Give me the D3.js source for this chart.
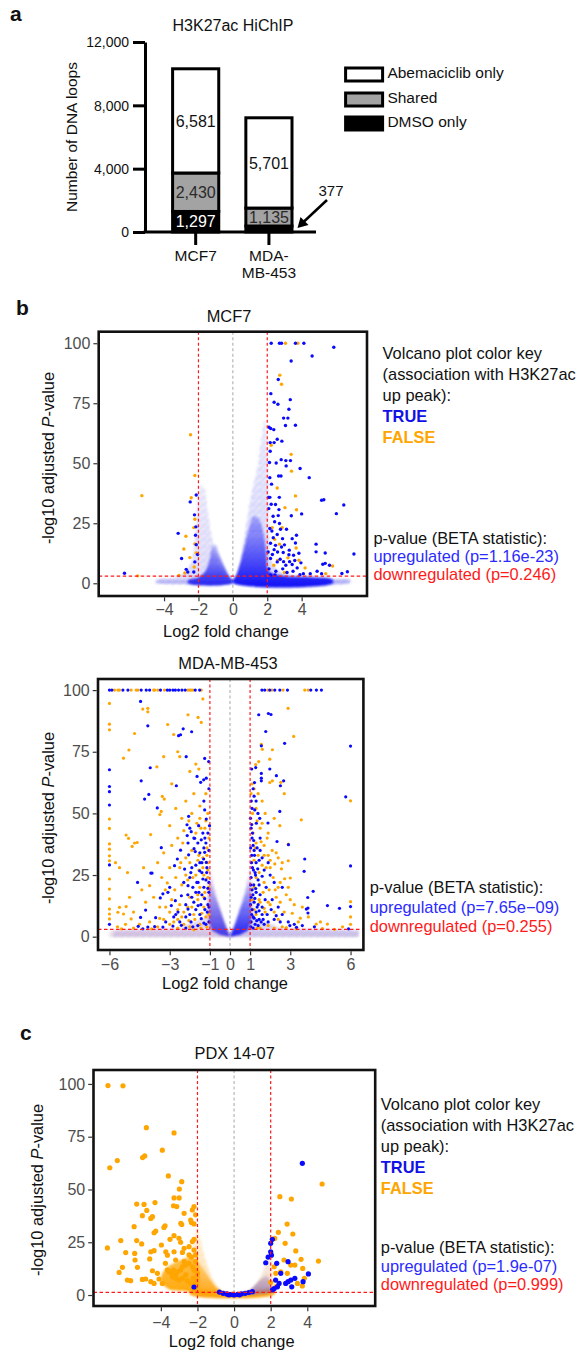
<!DOCTYPE html>
<html><head><meta charset="utf-8">
<script src="https://cdn.jsdelivr.net/npm/d3@7"></script>
<style>body{margin:0;background:#fff}svg{display:block}text{font-family:Arial,"Liberation Sans",Helvetica,sans-serif}</style>
</head><body><svg id="c" width="579" height="1353"></svg>
<script>
// ---------------- Panel a data ----------------
const barCategories = ["MCF7", "MDA-MB-453"];
const barTickLabels = [["MCF7"], ["MDA-", "MB-453"]];
const barDMSO = [1297, 377];
const barShared = [2430, 1135];
const barAbema = [6581, 5701];
const barTicks = [0, 4000, 8000, 12000];
const legendLabels = ["Abemaciclib only", "Shared", "DMSO only"];
const arrowLabel = "377";

// ---------------- Panel b/c text ----------------
const keyLines = ["Volcano plot color key", "(association with H3K27ac", "up peak):"];
const keyTrue = "TRUE", keyFalse = "FALSE";
const statHead = "p-value (BETA statistic):";
const mcf7Stats = ["upregulated (p=1.16e-23)", "downregulated (p=0.246)"];
const mdaStats = ["upregulated (p=7.65e\u221209)", "downregulated (p=0.255)"];
const pdxStats = ["upregulated (p=1.9e-07)", "downregulated (p=0.999)"];

// ---------------- MCF7 volcano ----------------
const mcf7XTicks = [-4, -2, 0, 2, 4];
const volcYTicks = [0, 25, 50, 75, 100];
const mcf7True = [[2.23,100],[2.71,100],[2.83,100],[3.64,100],[4.13,100],[4.61,94.7],[3.39,92.6],[2.64,84.9],[2.21,79],[2.4,75.4],[2.62,74.6],[3.34,76.5],[3.26,72.5],[2.95,68.8],[3.2,68.8],[3.64,65.8],[3.06,65.7],[2.1,65],[2.2,64.5],[2.38,64],[2.58,60],[2.17,58.6],[2.4,58.6],[2.85,59.2],[2.17,55],[2.13,50.3],[2.52,50.1],[2.81,51.5],[3.08,51.1],[3.35,51.1],[3.1,48.9],[3.91,47.8],[4.44,44],[2.15,44],[2.66,44.7],[2.8,44.7],[2.25,41.3],[2.08,35.8],[2.15,35.8],[2.7,35.8],[2.23,32.9],[2.48,32.8],[2.68,30.7],[2.09,31.1],[5.16,34.6],[5.29,34.8],[3.4,28.1],[4.0,28.9],[2.34,27.9],[2.64,28.2],[2.71,24.9],[2.43,25.6],[2.15,22.8],[2.27,21.8],[2.77,22.5],[3.12,22.5],[2.58,20.3],[2.89,18.6],[3.45,18.6],[3.7,20],[2.19,16.7],[2.48,15.8],[2.83,15.1],[3.28,13.8],[3.64,16.8],[2.93,12.8],[3.26,11.9],[3.53,11.7],[3.84,12.5],[3.96,8.5],[2.19,10.3],[2.58,8.9],[3.08,7.5],[3.45,7.8],[3.74,6.4],[4.84,16.3],[4.84,13.1],[5.37,12.6],[5.23,7.9],[5.37,8.3],[5.62,7.5],[4.5,4],[4.9,5],[5.16,4],[7.04,12.2],[6.45,32.6],[6.02,29],[5.87,98.3],[6.66,4.8],[6.34,4.1],[2.3,12],[2.5,5],[2.9,6],[3.3,9],[2.1,6],[2.4,14],[3.0,16],[2.6,13],[3.5,5],[2.2,3.5],[4.1,4],[2.75,10],[3.15,4.5],[2.35,19],[2.05,13],[2.95,9],[3.6,9.5],[2.45,3.5],[3.9,3.6],[-2.13,36.8],[-2.48,33.9],[-2.23,28.5],[-2.15,23.5],[-3.18,20.8],[-2.17,20],[-2.13,16.1],[-2.98,10.3],[-2.21,8.9],[-2.71,5.8],[-2.62,4.7],[-6.3,4.2],[-2.27,4.7],[-2.05,12]];
const mcf7False = [[3.06,100],[3.78,100],[2.73,86.7],[2.83,82.9],[2.23,57.5],[3.39,53.7],[3.41,46.7],[2.58,39.7],[3.64,36.4],[3.03,31.5],[3.7,30.6],[2.29,23.2],[2.87,23.2],[2.43,18.3],[2.71,16.3],[3.68,14.7],[3.2,10.6],[3.84,9.6],[2.38,7.5],[4.2,6.4],[5.4,4],[5.8,7.2],[2.6,9.5],[3.0,4.5],[-2.46,61.9],[-5.29,36.5],[-2.21,44.9],[-2.42,35.6],[-2.21,26.7],[-2.27,23.2],[-2.73,19.6],[-2.85,14.3],[-2.21,16.4],[-2.13,12.6],[-2.5,10.7],[-2.25,6.8],[-2.79,4.3],[-5.54,3.1],[-3.14,3.3]];
const mcf7HaloLeft = [[0,0.3],[-0.33,1.25],[-0.62,4.7],[-0.91,10.3],[-1.2,18.6],[-1.4,26.9],[-1.55,35.3],[-1.69,40.1],[-1.82,40.8],[-1.98,39.4],[-2.07,32.5],[-2.17,21.4],[-2.36,10.3],[-2.75,4.7],[-3.53,2.2],[-4.3,1.7],[-4.4,0.3]];
const mcf7CoreLeft = [[0,0.3],[-0.3,4],[-0.6,8.5],[-0.85,13],[-1.0,16],[-1.2,15],[-1.35,10],[-1.6,5],[-2.0,2.5],[-2.6,1.2],[-2.6,0]];
const mcf7HaloRight = [[0,0.3],[0.25,3.3],[0.45,8.9],[0.6,15.8],[0.8,25],[1.0,34],[1.25,42.6],[1.45,49],[1.62,58],[1.85,68],[2.0,60],[2.05,40],[2.1,20],[2.3,8],[3,4],[4.5,3],[5.6,1.7],[6.8,1.5],[6.8,0.3]];
const mcf7CoreRight = [[0,0.3],[0.2,3.5],[0.45,9],[0.7,16],[0.95,23],[1.2,28],[1.5,27],[1.8,20],[1.95,12],[2.1,5],[3,3],[4.5,2.5],[5.8,1.5],[5.8,0]];
const mcf7Band = [[-4.5,0],[-4.5,1.6],[6.8,1.6],[6.8,0]];

// ---------------- MDA-MB-453 volcano ----------------
const mdaXTicks = [-6, -3, -1, 0, 1, 3, 6];
const mdaTrue = [[-6,100],[-5.88,100],[-5.33,100],[-5.08,100],[-4.42,100],[-4.17,100],[-4,100],[-3.46,100],[-3.12,100],[-3,100],[-2.84,100],[-2.72,100],[-2.56,100],[-2.39,100],[-2.23,100],[-1.73,100],[-1.51,100],[1.59,100],[1.73,100],[1.98,100],[2.23,100],[2.48,100],[2.86,100],[4.02,100],[4.3,100],[4.55,100],[-6,67.7],[-6,60.9],[-6,58.8],[-6,53.4],[-6,29.1],[-6,5],[-4.45,95.4],[-4.09,85.5],[-3.97,68.5],[-4.42,63.2],[-4.04,57.7],[-4.25,55.8],[-3.62,52.2],[-3.42,36.1],[-3.94,25.8],[-3.88,25.8],[-4.6,22],[-4.45,7.8],[-4.57,4.2],[-4.2,10.8],[-3.7,7.7],[-3.34,17.4],[-3.47,15.7],[-1.06,71],[-1.26,72.3],[-1.18,64.3],[-1.46,62.6],[-1.31,63.6],[-1.64,65],[-2.18,73],[-2.46,81.9],[-2.56,81.5],[-2.33,84.3],[-1.91,83.1],[-2.67,61.2],[-2.06,48.8],[-2.14,45.4],[-1.56,45],[-1.26,51.4],[-1.93,42.6],[-1.76,39.9],[-1.43,39.3],[-1.35,42],[-1.6,38],[-1.18,47.7],[-2.13,41],[-2.09,38],[-1.79,35.7],[-1.26,34.2],[-1.31,31.5],[-1.18,30.1],[-1.73,34.5],[-2.06,33.2],[-2.46,35.1],[-2.62,31.5],[-2.76,28.8],[-2.26,27.4],[-1.51,26.7],[-1.16,26],[-1.35,23.4],[-1.59,22],[-2.09,20.7],[-2.42,16.6],[-2.72,14.6],[-3.09,18],[-2.92,12.6],[-2.59,10],[-2.09,11.2],[-1.59,12.6],[-1.26,15.4],[-1.1,19.6],[-1.13,10],[-1.43,7.3],[-1.94,6],[-2.42,4.6],[-2.84,4.3],[-3.34,3.9],[-3.75,4.1],[-4.09,3.9],[-4.34,3.2],[-1.2,5],[-1.5,9],[-1.8,14],[-2.2,8],[-1.1,13],[-1.7,18],[-2.0,24],[-1.4,17],[-2.3,22],[-1.9,28],[-1.05,22],[-1.25,40],[-1.5,30],[-2.8,8],[-3.2,6],[-3.0,20],[-1.02,45],[-1.1,42],[-1.2,38],[-1.05,35],[-1.3,36],[-1.5,34],[-1.15,28],[-1.4,26],[-1.7,29],[-1.95,26],[-1.05,18],[-1.3,20],[-1.55,18],[-1.85,20],[-2.1,17],[-1.05,12],[-1.25,11],[-1.45,13],[-1.7,11],[-2.0,9],[-1.05,6],[-1.3,5.5],[-1.6,4.5],[-1.85,4],[-2.2,3.5],[-2.5,6],[-2.7,9],[-2.2,13],[-1.9,16],[-1.65,22],[-1.4,30],[-1.2,23],[-1.8,40],[-2.0,44],[-1.3,55],[-1.05,60],[1.43,90],[1.91,90.5],[2.04,90.1],[1.78,83.2],[1.56,77.4],[1.28,68.6],[1.56,66.2],[1.56,64.3],[1.56,63.2],[1.98,68],[2.31,65.3],[2.51,61.2],[2.72,78.4],[2.67,63.2],[1.23,51.4],[1.39,50],[1.48,48],[1.31,46],[2.48,50.8],[1.89,46.1],[2.34,38.6],[2.91,37.3],[3.72,31.5],[3.69,26.5],[3.87,15.9],[4.14,18.4],[4.85,12.6],[3.8,11.2],[3.31,3.8],[2.98,4.5],[6.0,77.3],[5.76,56.7],[6.0,28.7],[6.0,12.2],[5.45,11.5],[5.9,3.2],[3.88,11.6],[3.88,9.6],[1.05,44],[1.1,40],[1.15,37],[1.2,35],[1.08,33],[1.3,30],[1.12,28],[1.25,26],[1.05,24],[1.4,23],[1.18,21],[1.1,19],[1.3,18],[1.5,17],[1.05,16],[1.2,14],[1.4,13],[1.1,11],[1.3,10],[1.6,9],[1.15,8],[1.45,7],[1.05,6],[1.25,5],[1.7,5],[1.9,6],[2.2,7],[2.5,6],[1.6,12],[1.8,20],[1.7,27],[2.0,25],[2.1,15],[2.4,12],[1.35,36],[1.6,32],[1.9,30],[2.2,22],[2.6,20],[1.5,40],[1.2,57],[1.3,55],[1.02,48],[1.08,45.5],[1.12,42],[1.18,39],[1.03,36],[1.22,33],[1.07,30],[1.17,27],[1.27,25],[1.03,21],[1.14,17],[1.24,15.5],[1.35,12],[1.02,13],[1.08,9],[1.2,7.5],[1.33,6.5],[1.04,4],[1.15,3.5],[1.4,4.5],[1.55,6],[1.65,7],[1.45,10.5],[1.28,19.5],[1.38,27.5],[1.45,31],[1.5,35],[1.1,52],[1.06,55],[1.45,21],[1.6,24.5],[1.75,15],[1.85,9],[2.05,11],[2.3,8.5],[2.6,9],[2.9,6],[3.2,5],[3.6,4.5],[4.2,4],[1.15,60],[1.22,62.5],[1.08,68]];
const mdaFalse = [[-5.75,100],[-5.58,100],[-5.5,100],[-4.92,100],[-4.67,100],[-4.58,100],[-3.75,100],[-3.59,100],[-3.26,100],[-2.09,100],[-1.93,100],[-1.84,100],[-1.43,100],[-3.8,100],[-2.0,100],[1.89,100],[2.09,100],[2.64,100],[3.72,100],[3.89,100],[-6,94.6],[-6,86.2],[-6,83.9],[-6,47.7],[-6,43.9],[-6,37.6],[-6,35.5],[-6,32.8],[-6,30.8],[-6,23.4],[-6,19.3],[-6,15.3],[-6,11.2],[-6,9.2],[-6,7.2],[-4.34,92.3],[-4.09,92.6],[-4.09,91.2],[-4.75,82.4],[-5.03,75.7],[-5.3,72.4],[-3.64,68.9],[-3.37,56.9],[-3.27,55.8],[-3.49,49.5],[-3.42,50.8],[-3.95,41.4],[-5.17,41.2],[-5.05,39.9],[-4.62,38.2],[-4.75,38],[-4.87,36.6],[-4.39,19],[-4.0,20.7],[-5.17,12.2],[-5.5,11.9],[-5.58,9.9],[-5.3,9.2],[-4.92,7.2],[-3.5,7.4],[-3.22,19],[-3.12,21.8],[-1.59,88.9],[-1.43,86.9],[-1.35,96.4],[-2.09,90],[-2.8,82],[-3.1,86],[-2.6,75],[-2.5,73],[-3.3,73],[-2.0,67],[-1.7,70],[-1.55,68],[-2.9,62],[-1.8,58],[-2.2,55],[-2.7,52],[-3.0,45],[-2.4,48],[-1.9,50],[-1.5,53],[-1.2,58],[-1.1,50],[-1.25,44],[-1.65,46],[-2.3,43],[-2.6,40],[-2.9,37],[-3.3,34],[-3.6,30],[-3.0,28],[-2.5,28],[-2.0,30],[-1.55,33],[-1.15,36],[-1.35,28],[-1.7,25],[-2.2,25],[-2.7,24],[-3.4,24],[-3.8,16],[-4.2,14],[-4.8,10],[-5.0,16],[-3.5,12],[-3.0,10],[-2.5,13],[-2.0,16],[-1.5,20],[-1.1,24],[-1.25,18],[-1.6,15],[-2.1,12],[-2.6,7],[-1.2,8],[-1.5,5],[-2.0,4],[-3.0,5],[-4.0,6],[-5.2,5],[-5.6,4],[-4.5,5],[-1.1,30],[-1.3,12],[-1.8,9],[-2.3,5],[-5.7,30],[-5.5,28],[-5.1,26],[-4.3,28],[-1.05,40],[-1.15,33],[-1.35,32],[-1.6,31],[-1.9,35],[-2.2,32],[-2.45,30],[-1.1,27],[-1.3,25],[-1.55,27],[-1.85,24],[-2.1,23],[-2.4,21],[-2.75,19],[-1.05,20],[-1.3,16],[-1.6,17],[-1.9,12],[-2.3,10],[-2.6,11],[-2.9,15],[-3.2,12],[-1.05,9],[-1.4,9.5],[-1.75,7],[-2.05,6.5],[-2.4,8],[-2.8,6],[-3.3,7],[-3.6,4],[-1.15,4],[-1.45,3.5],[-1.8,2.8],[-2.6,3.5],[-3.9,3.2],[-4.8,3.5],[-5.4,3.2],[-1.2,47],[-1.45,44],[-1.7,42],[-2.05,47],[-2.35,38],[-1.5,48],[2.89,92.6],[3.17,81.2],[1.56,78],[1.61,76],[2.11,75.8],[1.98,72],[1.43,71],[1.28,69.8],[2.11,63.2],[1.98,62.5],[2.53,62.6],[2.7,58],[3.55,47.4],[2.48,45],[2.9,37.5],[2.9,30.8],[2.23,29.5],[2.56,27.5],[2.72,23.5],[3.0,23.8],[4.29,5.1],[4.85,5.1],[3.6,12],[3.9,8],[4.5,6],[6.0,55.1],[6.0,14.2],[6.0,8],[6.0,5],[5.6,4],[1.1,62],[1.2,60],[1.4,58],[1.6,55],[1.3,52],[1.75,50],[2.2,48],[1.5,44],[1.9,42],[1.15,42],[1.3,38],[1.7,37],[2.1,35],[1.4,33],[1.9,33],[2.4,32],[1.2,31],[1.6,29],[2.0,28],[2.4,20],[1.7,22],[1.3,24],[2.8,17],[2.3,16],[1.9,14],[3.2,13],[2.7,10],[2.2,10],[1.75,10],[3.4,6],[2.6,4],[1.5,3.5],[1.2,20],[1.45,15],[1.05,58],[1.12,50],[1.35,47],[1.6,46],[1.85,40],[1.55,38.5],[1.25,36],[1.7,33],[2.0,31],[2.3,34],[2.6,30],[1.8,28],[1.45,26],[2.15,24],[2.5,22],[1.95,19],[1.65,18],[2.25,19],[2.9,20],[1.5,14],[2.0,13],[2.5,14],[3.0,15],[1.3,9],[1.7,11.5],[2.4,7],[3.1,9.5],[3.5,7.5],[1.9,4.5],[2.2,3.5],[2.8,3.7],[3.3,3.2],[4.6,3.3],[5.2,3],[1.1,15],[1.2,11],[1.35,3.5]];
const mdaHaloLeft = [[0,0],[-0.3,7],[-0.6,15],[-0.9,25],[-1.05,30],[-1.15,22],[-1.2,8],[-2.5,3.5],[-5.8,2.5],[-5.8,0]];
const mdaHaloRight = [[0,0],[0.3,7],[0.6,15],[0.9,25],[1.05,30],[1.15,22],[1.2,8],[2.5,3.5],[6.4,2.5],[6.4,0]];
const mdaCoreLeft = [[0,0],[-0.25,5],[-0.5,11],[-0.75,17],[-0.95,23],[-1.05,20],[-1.05,6],[-0.9,2.5],[-0.5,0.8]];
const mdaCoreRight = [[0,0],[0.25,5],[0.5,11],[0.75,17],[0.95,23],[1.05,20],[1.05,6],[0.9,2.5],[0.5,0.8]];
const mdaBand = [[-6,0],[-6,2.5],[6.4,2.5],[6.4,0]];

// ---------------- PDX 14-07 volcano ----------------
const pdxXTicks = [-4, -2, 0, 2, 4];
const pdxFalse = [[-6.89,99.2],[-6.07,99.1],[-4.79,79.3],[-3.28,76.8],[-3.92,68.6],[-4.88,65.9],[-5.0,65.1],[-6.38,63.7],[-6.79,60.3],[-3.59,56.4],[-2.86,53.7],[-2.99,50.2],[-5.32,43.1],[-4.92,42.9],[-4.32,43.8],[-3.28,46],[-3.0,46],[-3.31,42.3],[-3.13,41.9],[-4.77,40.1],[-5.01,37.6],[-4.46,37.1],[-4.55,36.3],[-2.73,38.7],[-2.19,41.9],[-2.28,40.3],[-2.1,38],[-2.37,35.5],[-2.33,34.3],[-2.19,33.7],[-2.91,34],[-2.86,33.4],[-4.28,30.3],[-4.37,29.5],[-3.77,32.8],[-3.83,32],[-5.46,32.4],[-6.19,25.8],[-6.92,22.3],[-5.32,25.8],[-5.05,24.2],[-3.97,23.7],[-3.5,26.4],[-3.28,28.1],[-3.01,26.9],[-2.92,25],[-2.73,22.1],[-2.46,22.9],[-2.28,25.3],[-2.19,26.4],[-5.92,20.1],[-5.43,19.7],[-4.55,20.5],[-4.37,21],[-3.73,20.5],[-3.64,18.9],[-3.28,20.5],[-3.19,16.6],[-2.82,20.2],[-2.46,19],[-2.33,18],[-2.19,21.3],[-2.1,19],[-5.41,16.6],[-4.61,17.1],[-6.1,13.1],[-6.28,10.7],[-5.28,13.1],[-5.83,7.1],[-5.65,6.8],[-5.01,7.4],[-4.83,7.6],[-4.55,6.3],[-4.37,5.5],[-4.1,7.6],[-3.92,5.5],[-3.64,11.8],[-3.55,11],[-3.42,10.3],[-3.31,11.8],[-3.19,9.5],[-3.1,11],[-2.92,11.8],[-2.82,13.4],[-2.73,15.8],[-2.64,14.2],[-2.46,15],[-2.28,13.4],[-2.19,11.8],[-2.1,15.8],[-3.37,8.7],[-3.19,7.9],[-3.01,7.1],[-2.82,7.9],[-2.64,9.5],[-2.55,6.8],[-2.37,5.5],[-2.22,7.9],[-2.1,5.5],[-2.0,10.3],[-4.19,10.3],[-4.46,11.5],[-3.75,15],[4.81,52.6],[2.5,46.6],[3.13,45.5],[2.9,33.6],[2.42,29.7],[3.21,28.9],[2.22,26.8],[2.79,24.5],[3.37,20.9],[3.66,16.9],[4.61,16.1],[2.73,16.6],[3.1,14.2],[3.32,14.2],[3.75,12.6],[2.19,13.4],[2.55,11],[2.91,10.3],[3.84,7.9],[2.28,10.3],[3.73,4.3],[3.46,5.5],[2.3,4],[2.0,6]];
const pdxTrue = [[3.73,62.4],[2.09,26.4],[2.0,24.5],[2.0,20.5],[2.04,18.9],[2.33,15],[2.95,15.8],[2.55,10.3],[2.27,7.1],[2.46,5.5],[2.37,3.9],[2.82,5.5],[2.95,6.3],[3.1,7.1],[3.32,7.9],[3.77,6.3],[4.06,10],[2.19,3.1],[2.1,2.4],[3.15,3.9],[1.73,15.3],[1.86,18],[-2.19,3.8],[-0.6,0.8],[-0.4,0.5],[-0.2,0.2],[0.0,0],[0.2,0.3],[0.4,0.6],[0.6,0.8],[0.8,1.2],[-0.8,1.4],[1.0,1.6],[0.3,0.1],[-0.3,0.1]];
const pdxHaloLeft = [[0,0],[-0.6,1.5],[-1.0,5],[-1.3,10],[-1.6,18],[-1.8,25],[-2.0,31],[-2.2,26],[-2.3,12],[-2.4,3],[-2.3,0.3]];
const pdxCoreLeft = [[0,0],[-0.5,1],[-0.9,3],[-1.2,6],[-1.5,10],[-1.8,14],[-2.0,16],[-2.0,1.5],[-1.0,0.3]];
const pdxMassLeft = [[-2.0,2],[-2.0,15],[-2.3,18],[-2.8,17],[-3.3,15],[-3.8,12],[-4.0,7],[-3.6,3],[-2.8,2]];
const pdxBand = [[-2.4,0.3],[-2.4,2.4],[0,0.8],[2.2,2.4],[2.2,0.3]];
const pdxHaloRight = [[0,0],[0.5,0.8],[1.0,3],[1.4,8],[1.7,14],[1.9,21],[2.05,18],[2.1,8],[2.2,2],[1.5,0.5]];
const pdxCoreRight = [[0.1,0],[0.6,1.2],[1.0,3.5],[1.4,7],[1.8,9],[2.0,5],[2.0,1.5],[1.2,0.3]];

// ================= drawing =================
const FONT = 'Arial,"Liberation Sans",Helvetica,sans-serif';
const BLUE = "#0a0aff", ORANGE = "#ffa500", RED = "#ff1a1a";
const svg = d3.select("#c");
svg.append("rect").attr("width", 579).attr("height", 1353).attr("fill", "#fff");
const defs = svg.append("defs");
defs.append("filter").attr("id", "soft").attr("x", "-30%").attr("y", "-30%").attr("width", "160%").attr("height", "160%")
  .append("feGaussianBlur").attr("stdDeviation", 0.9);
let fillCount = 0;
function dotPattern(color) {
  const id = "pat" + (fillCount++);
  const pt = defs.append("pattern").attr("id", id).attr("patternUnits", "userSpaceOnUse").attr("width", 7).attr("height", 7);
  [[1.2,1.3,1],[4.8,2.6,1],[2.6,5.4,0.95],[6.2,6.2,0.8]].forEach(c =>
    pt.append("circle").attr("cx", c[0]).attr("cy", c[1]).attr("r", c[2]).attr("fill", color));
  return `url(#${id})`;
}
function vGrad(color, bottomOp, topOp) {
  const id = "grad" + (fillCount++);
  const lg = defs.append("linearGradient").attr("id", id).attr("x1", 0).attr("y1", 1).attr("x2", 0).attr("y2", 0);
  lg.append("stop").attr("offset", 0).attr("stop-color", color).attr("stop-opacity", bottomOp);
  lg.append("stop").attr("offset", 1).attr("stop-color", color).attr("stop-opacity", topOp);
  return `url(#${id})`;
}

function txt(g, x, y, s, o = {}) {
  return g.append("text").attr("x", x).attr("y", y).text(s)
    .attr("font-family", FONT).attr("font-size", o.size || 16)
    .attr("fill", o.fill || "#111").attr("font-weight", o.weight || "normal")
    .attr("text-anchor", o.anchor || "start");
}

// ---------- Panel a ----------
const gA = svg.append("g");
txt(gA, 10, 21, "a", {size: 21, weight: "bold"});
txt(gA, 233, 30.5, "H3K27ac HiChIP", {size: 16, anchor: "middle"});
const yB = d3.scaleLinear().domain([0, 12000]).range([232, 42]);
const xB = d3.scaleBand().domain(barCategories).range([172.6, 292]).paddingInner(0.37).paddingOuter(0);
const rows = barCategories.map((c, i) => ({cat: c, dmso: barDMSO[i], shared: barShared[i], abema: barAbema[i]}));
const stackKeys = ["dmso", "shared", "abema"];
const fills = {dmso: "#000", shared: "#a3a3a3", abema: "#fff"};
const labelFill = {dmso: "#fff", shared: "#2a2a2a", abema: "#111"};
const stacked = d3.stack().keys(stackKeys)(rows);
stacked.forEach(s => {
  gA.append("g").selectAll("rect").data(s).join("rect")
    .attr("x", d => xB(d.data.cat)).attr("width", xB.bandwidth())
    .attr("y", d => yB(d[1])).attr("height", d => yB(d[0]) - yB(d[1]))
    .attr("fill", fills[s.key]).attr("stroke", "#000").attr("stroke-width", 3);
});
stacked.forEach(s => {
  gA.append("g").selectAll("text").data(s.filter(d => d[1] - d[0] > 600)).join("text")
    .attr("x", d => xB(d.data.cat) + xB.bandwidth() / 2)
    .attr("y", d => (yB(d[0]) + yB(d[1])) / 2).attr("dy", "0.36em")
    .attr("text-anchor", "middle").attr("font-family", FONT).attr("font-size", 16)
    .attr("fill", labelFill[s.key]).text(d => d3.format(",")(d[1] - d[0]));
});
const yAx = gA.append("g").attr("transform", "translate(145,0)")
  .call(d3.axisLeft(yB).tickValues(barTicks).tickSize(12).tickSizeOuter(0).tickPadding(4).tickFormat(d3.format(",")));
yAx.select(".domain").attr("stroke", "#000").attr("stroke-width", 3);
yAx.selectAll(".tick line").attr("stroke", "#000").attr("stroke-width", 3);
yAx.selectAll(".tick text").attr("font-family", FONT).attr("font-size", 14).attr("fill", "#111").attr("dy", "0.34em");
gA.append("line").attr("x1", 143.5).attr("x2", 316).attr("y1", yB(0)).attr("y2", yB(0)).attr("stroke", "#000").attr("stroke-width", 3);
const xAx = gA.append("g").attr("transform", `translate(0,${yB(0)})`)
  .call(d3.axisBottom(xB).tickSize(13).tickSizeOuter(0).tickFormat(""));
xAx.select(".domain").remove();
xAx.selectAll(".tick line").attr("stroke", "#000").attr("stroke-width", 3);
barCategories.forEach((c, i) => {
  barTickLabels[i].forEach((ln, j) => txt(gA, xB(c) + xB.bandwidth() / 2, 260.5 + j * 17, ln, {size: 15.5, anchor: "middle"}));
});
gA.append("text").attr("transform", "translate(72,137) rotate(-90)").attr("text-anchor", "middle").attr("dy", "0.35em")
  .attr("font-family", FONT).attr("font-size", 15.5).attr("fill", "#111").text("Number of DNA loops");
const tipX = xB(barCategories[1]) + xB.bandwidth() + 5.5, tipY = (yB(0) + yB(barDMSO[1])) / 2 - 1;
gA.append("line").attr("x1", 327).attr("y1", 200).attr("x2", tipX + 6).attr("y2", tipY - 6).attr("stroke", "#000").attr("stroke-width", 2.5);
gA.append("path").attr("d", `M${tipX},${tipY} L${tipX + 3},${tipY - 11} L${tipX + 11},${tipY - 3} Z`).attr("fill", "#000");
txt(gA, 331, 196, arrowLabel, {size: 15, anchor: "middle"});
const legKeys = ["abema", "shared", "dmso"];
legendLabels.forEach((l, i) => {
  const ty = [68, 93, 117][i];
  gA.append("rect").attr("x", 345.6).attr("y", ty).attr("width", 37).attr("height", 13)
    .attr("fill", fills[legKeys[i]]).attr("stroke", "#000").attr("stroke-width", 3);
  txt(gA, 387.4, ty + 9.5, l, {size: 15.5});
});

// ---------- Volcano function ----------
function volcano(o) {
  const g = svg.append("g");
  const x = d3.scaleLinear().domain(o.xd).range([o.L, o.R]);
  const y = d3.scaleLinear().domain(o.yd).range([o.B, o.T]);
  const cid = "clip" + o.id;
  defs.append("clipPath").attr("id", cid).append("rect").attr("x", o.L).attr("y", o.T).attr("width", o.R - o.L).attr("height", o.B - o.T);
  const p = g.append("g").attr("clip-path", `url(#${cid})`);
  const smooth = d3.line().x(d => x(d[0])).y(d => y(d[1])).curve(d3.curveCatmullRomClosed.alpha(0.5));
  const straight = d3.line().x(d => x(d[0])).y(d => y(d[1])).curve(d3.curveLinearClosed);
  p.append("line").attr("x1", x(0)).attr("x2", x(0)).attr("y1", o.T).attr("y2", o.B)
    .attr("stroke", "#b5b5b5").attr("stroke-width", 1.2).attr("stroke-dasharray", "3,2.5");
  o.clouds.forEach(c => {
    const f = c.kind === "dots" ? dotPattern(c.color) : vGrad(c.color, c.op, c.top == null ? c.op * 0.25 : c.top);
    p.append("path").attr("d", (c.straight ? straight : smooth)(c.pts)).attr("fill", f)
      .attr("opacity", c.kind === "dots" ? c.op : 1).attr("filter", "url(#soft)");
  });
  o.sets.forEach(s => p.append("g").selectAll("circle").data(s.pts).join("circle")
    .attr("cx", d => x(d[0])).attr("cy", d => y(d[1])).attr("r", s.r).attr("fill", s.color).attr("opacity", s.op || 1));
  o.vlines.forEach(v => p.append("line").attr("x1", x(v)).attr("x2", x(v)).attr("y1", o.T).attr("y2", o.B)
    .attr("stroke", RED).attr("stroke-width", 1.2).attr("stroke-dasharray", "3,2.5"));
  p.append("line").attr("x1", o.L).attr("x2", o.R).attr("y1", y(o.h)).attr("y2", y(o.h))
    .attr("stroke", RED).attr("stroke-width", 1.2).attr("stroke-dasharray", "3.5,2.5");
  g.append("rect").attr("x", o.L).attr("y", o.T).attr("width", o.R - o.L).attr("height", o.B - o.T)
    .attr("fill", "none").attr("stroke", "#111").attr("stroke-width", 2.6);
  const ya = g.append("g").attr("transform", `translate(${o.L - 1.3},0)`)
    .call(d3.axisLeft(y).tickValues(volcYTicks).tickSize(4).tickPadding(3));
  ya.select(".domain").remove();
  ya.selectAll(".tick line").attr("stroke", "#333").attr("stroke-width", 1.2);
  ya.selectAll(".tick text").attr("font-family", FONT).attr("font-size", 16).attr("fill", "#4d4d4d");
  const xa = g.append("g").attr("transform", `translate(0,${o.B + 1.3})`)
    .call(d3.axisBottom(x).tickValues(o.xt).tickSize(4).tickPadding(o.xpad).tickFormat(d3.format("d")));
  xa.select(".domain").remove();
  xa.selectAll(".tick line").attr("stroke", "#333").attr("stroke-width", 1.2);
  xa.selectAll(".tick text").attr("font-family", FONT).attr("font-size", 16).attr("fill", "#4d4d4d");
  txt(g, o.titleX, o.titleY, o.title, {size: 16.4, anchor: "middle"});
  txt(g, o.titleX - 3, o.xlabY, "Log2 fold change", {size: 16.4, anchor: "middle"});
  const yl = g.append("text").attr("transform", `translate(${o.ylabX},${o.ylabY}) rotate(-90)`).attr("text-anchor", "middle").attr("dy", "0.35em")
    .attr("font-family", FONT).attr("font-size", 16.4).attr("fill", "#111");
  yl.append("tspan").text("-log10 adjusted ");
  yl.append("tspan").attr("font-style", "italic").text("P");
  yl.append("tspan").text("-value");
  if (o.keyY) {
    keyLines.forEach((l, i) => txt(g, o.keyX, o.keyY + i * 21, l, {size: 16.4}));
    txt(g, o.keyX, o.keyY + 3 * 21, keyTrue, {size: 16.4, weight: "bold", fill: "#1212e6"});
    txt(g, o.keyX, o.keyY + 4 * 21, keyFalse, {size: 16.4, weight: "bold", fill: ORANGE});
  }
  txt(g, o.statX, o.statY, statHead, {size: 16.4});
  txt(g, o.statX, o.statY + o.statGap, o.stats[0], {size: 16.4, fill: "#2b2bff"});
  txt(g, o.statX, o.statY + 2 * o.statGap - 1, o.stats[1], {size: 16.4, fill: RED});
}

// ---------- Panel b ----------
txt(svg, 16, 315, "b", {size: 21, weight: "bold"});
volcano({
  id: "mcf7", L: 98.7, R: 367, T: 331.7, B: 596, xd: [-7.8, 7.8], yd: [-5.3, 104.8],
  xt: mcf7XTicks, xpad: 2.5, vlines: [-2, 2], h: 3,
  clouds: [
    {pts: mcf7Band, kind: "grad", color: "#4a4af0", op: 0.4, top: 0.15, straight: true},
    {pts: mcf7HaloLeft, kind: "grad", color: "#9a90e8", op: 0.25, top: 0.08},
    {pts: mcf7HaloLeft, kind: "dots", color: "#7f7fee", op: 0.5},
    {pts: mcf7HaloRight, kind: "grad", color: "#8a8af0", op: 0.25, top: 0.06},
    {pts: mcf7HaloRight, kind: "dots", color: "#6a6af2", op: 0.5},
    {pts: mcf7CoreLeft, kind: "grad", color: "#1c1cf0", op: 0.95, top: 0.25},
    {pts: mcf7CoreRight, kind: "grad", color: "#1010f6", op: 0.98, top: 0.25}
  ],
  sets: [{pts: mcf7False, color: ORANGE, r: 1.7}, {pts: mcf7True, color: BLUE, r: 1.7}],
  title: "MCF7", titleX: 229, titleY: 322, xlabY: 636.5, ylabX: 48, ylabY: 458,
  keyX: 382.6, keyY: 359, statX: 373.4, statY: 544, statGap: 18.3, stats: mcf7Stats
});
volcano({
  id: "mda", L: 98, R: 363.4, T: 679, B: 950, xd: [-6.57, 6.64], yd: [-5.4, 104.5],
  xt: mdaXTicks, xpad: 3.5, vlines: [-1, 1], h: 3,
  clouds: [
    {pts: mdaBand, kind: "grad", color: "#c0a0c0", op: 0.45, top: 0.2, straight: true},
    {pts: mdaHaloLeft, kind: "grad", color: "#b8a0d8", op: 0.4, top: 0.08, straight: true},
    {pts: mdaHaloLeft, kind: "dots", color: "#b08ad0", op: 0.45, straight: true},
    {pts: mdaHaloRight, kind: "grad", color: "#a8a0e8", op: 0.4, top: 0.08, straight: true},
    {pts: mdaHaloRight, kind: "dots", color: "#9a8ae0", op: 0.45, straight: true},
    {pts: mdaCoreLeft, kind: "grad", color: "#3a30e8", op: 0.95, top: 0.15, straight: true},
    {pts: mdaCoreRight, kind: "grad", color: "#1a1af2", op: 0.95, top: 0.15, straight: true}
  ],
  sets: [{pts: mdaFalse, color: ORANGE, r: 1.6}, {pts: mdaTrue, color: BLUE, r: 1.6}],
  title: "MDA-MB-453", titleX: 228, titleY: 669, xlabY: 989, ylabX: 48, ylabY: 818,
  statX: 369.7, statY: 892.5, statGap: 20, stats: mdaStats
});

// ---------- Panel c ----------
txt(svg, 20, 1040, "c", {size: 21, weight: "bold"});
volcano({
  id: "pdx", L: 93.5, R: 375.2, T: 1070, B: 1306, xd: [-7.68, 7.71], yd: [-5.2, 106.6],
  xt: pdxXTicks, xpad: 5, vlines: [-2, 2], h: 1.3,
  clouds: [
    {pts: pdxHaloLeft, kind: "grad", color: "#ffc870", op: 0.45, top: 0.15},
    {pts: pdxHaloLeft, kind: "dots", color: "#ffb840", op: 0.5},
    {pts: pdxHaloRight, kind: "grad", color: "#e8c0a0", op: 0.5, top: 0.12},
    {pts: pdxHaloRight, kind: "dots", color: "#e0a878", op: 0.5},
    {pts: pdxCoreLeft, kind: "grad", color: "#ffa40c", op: 0.95, top: 0.35},
    {pts: pdxMassLeft, kind: "grad", color: "#ffa500", op: 0.95, top: 0.7},
    {pts: pdxBand, kind: "grad", color: "#ffa000", op: 0.95, top: 0.8},
    {pts: pdxCoreRight, kind: "grad", color: "#8a6aa8", op: 0.75, top: 0.3}
  ],
  sets: [{pts: pdxFalse, color: ORANGE, r: 2.6}, {pts: pdxTrue, color: BLUE, r: 2.6}],
  title: "PDX 14-07", titleX: 234.7, titleY: 1059, xlabY: 1346.5, ylabX: 37, ylabY: 1190,
  keyX: 380.8, keyY: 1110, statX: 380.8, statY: 1253, statGap: 19, stats: pdxStats
});
</script></body></html>
